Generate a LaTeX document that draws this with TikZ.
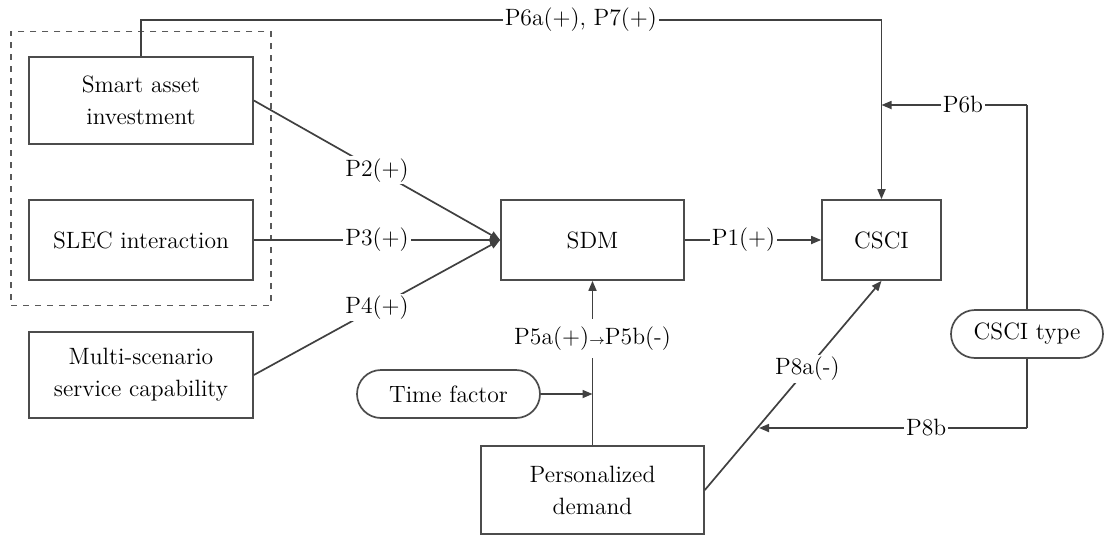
\documentclass[tikz,border=0pt]{standalone}
\usepackage{tikz}
\usetikzlibrary{arrows.meta,positioning,fit}

\begin{document}
\begin{tikzpicture}[
  x=0.5pt, y=-0.5pt,
  font=\fontsize{11.8}{16}\selectfont,
  box/.style={draw=black!70, line width=0.85pt, align=center, text=black, inner sep=2pt},
  pill/.style={box, rounded corners=12pt, minimum height=24pt},
  arrow/.style={-{Triangle[length=5pt,width=4pt]}, draw=black!75, line width=0.85pt},
  line/.style={draw=black!75, line width=0.85pt},
  lab/.style={fill=white, inner sep=1pt, text=black}
]
\useasboundingbox (0,0) rectangle (1104,536);

% left column
\node[box, minimum width=112pt, minimum height=43.5pt] (smart) at (141,100.5) {Smart asset\\investment};
\node[box, minimum width=112pt, minimum height=40pt] (slec) at (141,240) {SLEC interaction};
\node[box, minimum width=112pt, minimum height=43pt] (multi) at (141,375) {Multi-scenario\\service capability};
\node[draw=black!65, dashed, line width=0.7pt, inner xsep=8.5pt, inner ysep=12.3pt, fit=(smart)(slec)] (group) {};

% middle and right
\node[box, minimum width=91.5pt, minimum height=40pt] (sdm) at (592.5,240) {SDM};
\node[box, minimum width=59.5pt, minimum height=40pt] (csci) at (881.5,240) {CSCI};
\node[pill, minimum width=91.5pt] (time) at (448.5,394) {Time factor};
\node[box, minimum width=111.5pt, minimum height=44pt] (pers) at (592.5,490) {Personalized\\demand};
\node[pill, minimum width=76pt] (ctype) at (1027,334) {CSCI type};

% turning points
\coordinate (topL) at (141,20);
\coordinate (topR) at (881.5,20);
\coordinate (p6bL) at (881.5,105);
\coordinate (p6bR) at (ctype.north |- p6bL);
\coordinate (p8bL) at (759,428);
\coordinate (p8bR) at (ctype.south |- p8bL);

% connectors
\draw[arrow] (smart.east) -- node[lab] {P2(+)} (sdm.west);
\draw[arrow] (slec.east) -- node[lab] {P3(+)} (sdm.west);
\draw[arrow] (multi.east) -- node[lab] {P4(+)} (sdm.west);
\draw[arrow] (sdm.east) -- node[lab, pos=0.43] {P1(+)} (csci.west);
\draw[arrow] (smart.north) -- (topL) -- node[lab, pos=0.594] {P6a(+), P7(+)} (topR) -- (csci.north);
\draw[line] (ctype.north) -- (p6bR);
\draw[arrow] (p6bR) -- node[lab, pos=0.44] {P6b} (p6bL);
\draw[line] (ctype.south) -- (p8bR);
\draw[arrow] (p8bR) -- node[lab, pos=0.376] {P8b} (p8bL);
\draw[arrow] (pers.east) -- node[lab, pos=0.58] {P8a(-)} (csci.south);
\draw[arrow] (pers.north) -- node[lab, pos=0.65, inner ysep=4pt] {P5a(+){\scriptsize$\rightarrow$}P5b(-)} (sdm.south);
\draw[arrow] (time.east) -- (time.east -| pers.north);

\end{tikzpicture}
\end{document}
